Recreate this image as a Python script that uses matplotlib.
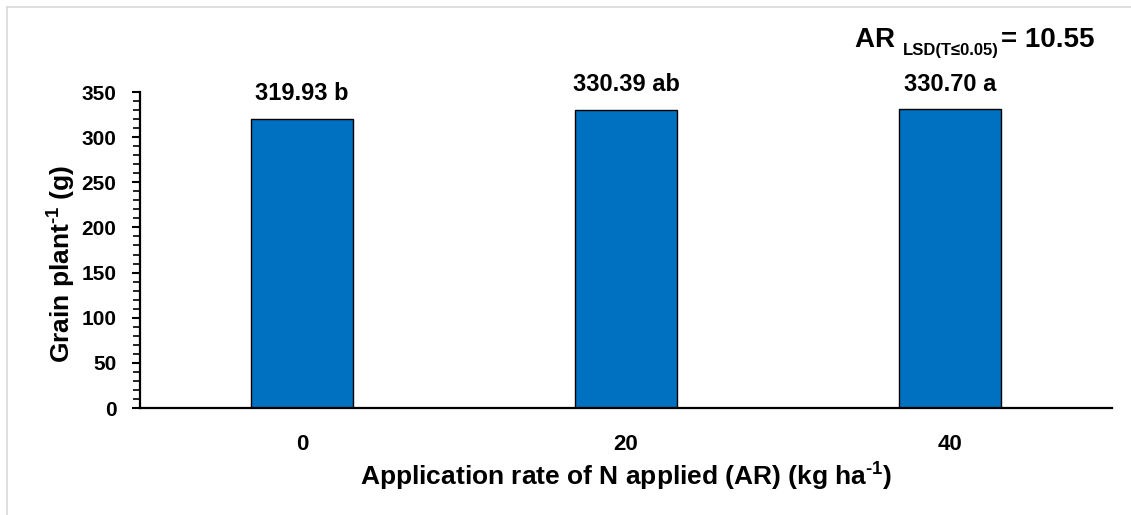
import matplotlib

matplotlib.use("Agg")
import matplotlib.pyplot as plt
from matplotlib.lines import Line2D
from matplotlib.ticker import MultipleLocator

# data
rates = ["0", "20", "40"]
grain = [319.93, 330.39, 330.70]
letters = ["b", "ab", "a"]
lsd = 10.55

plt.rcParams["font.family"] = ["Liberation Sans", "DejaVu Sans"]
plt.rcParams["font.weight"] = "bold"
plt.rcParams["mathtext.fontset"] = "custom"
plt.rcParams["mathtext.rm"] = "Liberation Sans:bold"
plt.rcParams["mathtext.bf"] = "Liberation Sans:bold"
plt.rcParams["mathtext.default"] = "bf"

fig = plt.figure(figsize=(11.31, 5.15), dpi=100)
ax = fig.add_axes([140 / 1131, 1 - 408 / 515, 972 / 1131, 316 / 515])

x = range(len(rates))
ax.bar(x, grain, width=0.315, color="#0070C0", edgecolor="black", linewidth=1.0)

for xi, v, l in zip(x, grain, letters):
    ax.annotate(f"{v:.2f} {l}", (xi, v), xytext=(0, 10), textcoords="offset points",
                ha="center", va="bottom", fontsize=17, fontweight="bold")

ax.set_xlim(-0.5, len(rates) - 0.5)
ax.set_ylim(0, 350)
ax.set_xticks(list(x))
ax.set_xticklabels(rates)
ax.yaxis.set_major_locator(MultipleLocator(50))
ax.yaxis.set_minor_locator(MultipleLocator(10))
ax.tick_params(axis="y", which="major", length=6, width=1.5, labelsize=15, pad=11)
ax.tick_params(axis="y", which="minor", length=5, width=1.2)
ax.tick_params(axis="x", length=0, labelsize=16, pad=19)
for lab in ax.get_xticklabels() + ax.get_yticklabels():
    lab.set_fontweight("bold")

for s in ["top", "right"]:
    ax.spines[s].set_visible(False)
ax.spines["left"].set_linewidth(1.6)
ax.spines["bottom"].set_linewidth(1.6)

ax.set_ylabel(r"Grain plant$^{\text{-1}}$ (g)", fontsize=19, fontweight="bold", labelpad=0)
ax.yaxis.set_label_coords(-0.064, 0.455)
ax.set_xlabel(r"Application rate of N applied (AR) (kg ha$^{\text{-1}}$)", fontsize=19,
              fontweight="bold", labelpad=4)

# LSD note, built from pieces so the subscript sits right
fig.canvas.draw()
r = fig.canvas.get_renderer()
x0, y0 = 855, 515 - 47
t1 = fig.text(x0 / 1131, y0 / 515, "AR ", fontsize=20, fontweight="bold")
w1 = t1.get_window_extent(r).width
t2 = fig.text((x0 + w1) / 1131, (y0 - 8) / 515, "LSD(T≤0.05)", fontsize=12, fontweight="bold")
w2 = t2.get_window_extent(r).width
fig.text((x0 + w1 + w2 + 2) / 1131, y0 / 515, "= " + f"{lsd:.2f}", fontsize=20, fontweight="bold")

# light chart frame (only top and left edges show)
fig.add_artist(Line2D([7 / 1131, 7 / 1131], [0, 1 - 7 / 515], color="#D9D9D9", lw=1.2))
fig.add_artist(Line2D([7 / 1131, 1], [1 - 7 / 515, 1 - 7 / 515], color="#D9D9D9", lw=1.2))

fig.savefig("out.png", dpi=100)
